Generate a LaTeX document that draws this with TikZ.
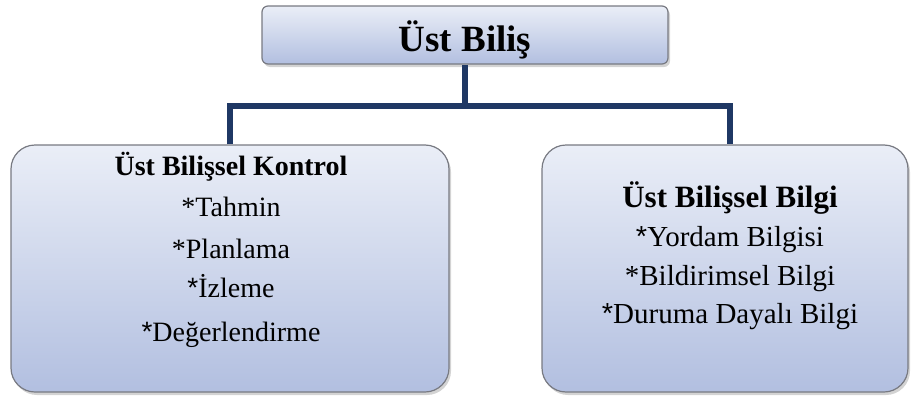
\documentclass[tikz,border=0pt]{standalone}
\usepackage{fontspec}
\setmainfont{Liberation Serif}
\newfontfamily\astfont{Liberation Sans}
\usetikzlibrary{shadows}

\newlength{\du}
\setlength{\du}{1pt}

\definecolor{linkcolor}{RGB}{31,56,100}
\definecolor{boxtop}{RGB}{234,238,247}
\definecolor{boxbottom}{RGB}{178,191,224}
\definecolor{boxline}{RGB}{120,122,130}

\tikzset{
  box/.style={draw=boxline, line width=1.2\du, top color=boxtop, bottom color=boxbottom,
    drop shadow={shadow xshift=2\du, shadow yshift=-3\du, opacity=0.35}},
  link/.style={draw=linkcolor, line width=5.5\du, line join=miter},
  head/.style={anchor=base, font=\bfseries\fontsize{28\du}{30\du}\selectfont},
  item/.style={anchor=base, font=\fontsize{28\du}{30\du}\selectfont},
}

\begin{document}
\begin{tikzpicture}
\pgftransformxscale{1.000000}
\pgftransformyscale{-1.000000}
\useasboundingbox (0\du,0\du) rectangle (911\du,399\du);
% boxes
\node[box, rounded corners=6\du, minimum width=406\du, minimum height=58\du] (meta) at (465\du,35\du) {};
\node[box, rounded corners=24\du, minimum width=438\du, minimum height=247\du] (control) at (230\du,268.5\du) {};
\node[box, rounded corners=24\du, minimum width=366\du, minimum height=247\du] (knowledge) at (725\du,268.5\du) {};
% connectors
\coordinate (junction) at (465\du,106\du);
\draw[link] (meta.south) -- (junction);
\draw[link] (control.north) |- (junction) -| ([xshift=5\du]knowledge.north);
% top label
\node[head, font=\bfseries\fontsize{37\du}{40\du}\selectfont] (metatitle) at (465\du,51\du) {Üst Biliş};
% left box
\node[head] (controltitle) at (231\du,175\du) {Üst Bilişsel Kontrol};
\node[item] (predict) at (231\du,216\du) {*Tahmin};
\node[item] (plan) at (231\du,258\du) {*Planlama};
\node[item] (monitor) at (231\du,297\du) {{\astfont *}İzleme};
\node[item] (evaluate) at (231\du,341\du) {{\astfont *}Değerlendirme};
% right box
\node[head, font=\bfseries\fontsize{31\du}{34\du}\selectfont] (knowtitle) at (730\du,207\du) {Üst Bilişsel Bilgi};
\node[item, font=\fontsize{29\du}{31\du}\selectfont] (procedural) at (730\du,246\du) {{\astfont *}Yordam Bilgisi};
\node[item, font=\fontsize{29\du}{31\du}\selectfont] (declarative) at (730\du,285\du) {*Bildirimsel Bilgi};
\node[item, font=\fontsize{29\du}{31\du}\selectfont] (conditional) at (730\du,323\du) {{\astfont *}Duruma Dayalı Bilgi};
\end{tikzpicture}
\end{document}
